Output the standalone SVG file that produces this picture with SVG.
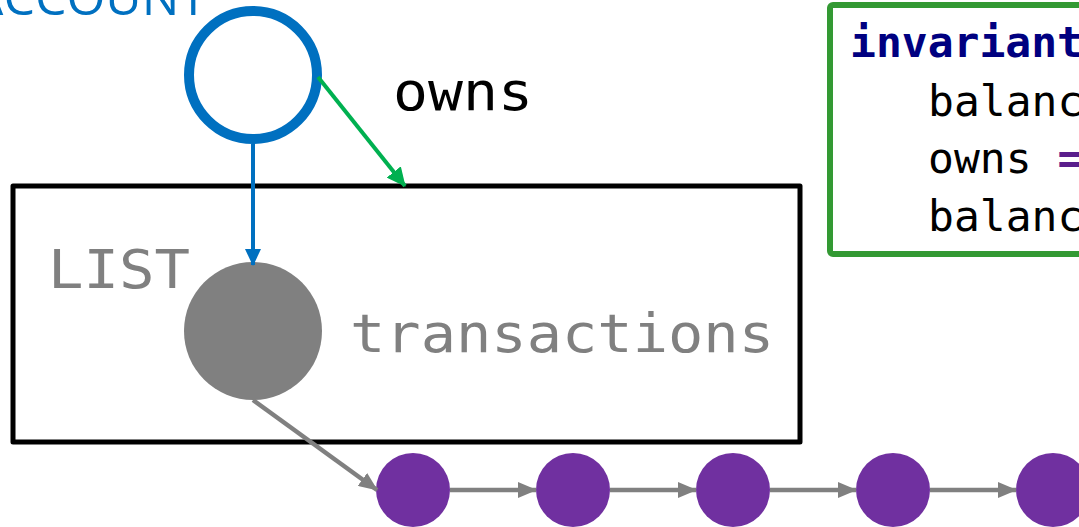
<svg xmlns="http://www.w3.org/2000/svg" width="1079" height="527" viewBox="0 0 1079 527">
  <style>
    .mono { font-family: "DejaVu Sans Mono", "Liberation Mono", monospace; }
    .label { font-size: 53px; }
    .code { font-size: 43px; fill: #000000; }
    .kw { font-weight: bold; fill: #000080; }
    .op { font-weight: bold; fill: #5A1E8C; }
    .item { fill: #7030A0; }
    .link { stroke: #808080; stroke-width: 4.5; fill: none; marker-end: url(#head-gray); }
  </style>
  <defs>
    <marker id="head-blue" markerUnits="userSpaceOnUse" markerWidth="18" markerHeight="16" refX="16" refY="8" orient="auto">
      <path d="M0,0 L17,8 L0,16 Z" fill="#0070C0"/>
    </marker>
    <marker id="head-green" markerUnits="userSpaceOnUse" markerWidth="20" markerHeight="18" refX="18" refY="9" orient="auto">
      <path d="M0,0 L19,9 L0,18 Z" fill="#00B050"/>
    </marker>
    <marker id="head-gray" markerUnits="userSpaceOnUse" markerWidth="20" markerHeight="16" refX="18" refY="8" orient="auto">
      <path d="M0,0 L19,8 L0,16 Z" fill="#808080"/>
    </marker>
  </defs>

  <rect width="1079" height="527" fill="#ffffff"/>

  <!-- account object -->
  <g id="account">
    <text x="207" y="15" text-anchor="end" font-family="'Open Sans', 'Noto Sans', sans-serif" font-size="50" fill="#0070C0">ACCOUNT</text>
    <circle cx="253" cy="75" r="64" fill="#ffffff" stroke="#0070C0" stroke-width="10"/>
  </g>

  <!-- owned list container -->
  <g id="list-box">
    <rect x="13" y="186" width="787" height="256" fill="none" stroke="#000000" stroke-width="5" stroke-linejoin="round"/>
    <text class="mono label" x="48" y="288" fill="#808080" textLength="142" lengthAdjust="spacingAndGlyphs">LIST</text>
    <text class="mono label" x="350" y="352" fill="#808080" textLength="424" lengthAdjust="spacingAndGlyphs">transactions</text>
  </g>

  <g id="list-head">
    <circle cx="253" cy="331" r="69" fill="#808080"/>
  </g>

  <g id="owns-label">
    <text class="mono label" x="393" y="110" fill="#000000" textLength="140" lengthAdjust="spacingAndGlyphs">owns</text>
  </g>

  <!-- invariant clause -->
  <g id="invariant">
    <rect x="830" y="5" width="270" height="249" rx="3" fill="#ffffff" stroke="#339933" stroke-width="6"/>
    <text class="mono code kw" x="850" y="57">invariant</text>
    <text class="mono code" x="928" y="116">balanc</text>
    <text class="mono code" x="928" y="173">owns <tspan class="op">=</tspan></text>
    <text class="mono code" x="928" y="231">balanc</text>
  </g>

  <!-- list cells -->
  <g id="cell-1"><circle class="item" cx="413" cy="490" r="37"/></g>
  <g id="cell-2"><circle class="item" cx="573" cy="490" r="37"/></g>
  <g id="cell-3"><circle class="item" cx="733" cy="490" r="37"/></g>
  <g id="cell-4"><circle class="item" cx="893" cy="490" r="37"/></g>
  <g id="cell-5"><circle class="item" cx="1053" cy="490" r="37"/></g>

  <!-- connectors -->
  <g id="connectors">
    <line x1="253" y1="144" x2="253" y2="265" stroke="#0070C0" stroke-width="4" marker-end="url(#head-blue)"/>
    <line x1="318" y1="77" x2="405" y2="186" stroke="#00B050" stroke-width="4" marker-end="url(#head-green)"/>
    <line class="link" x1="253" y1="400" x2="377" y2="490"/>
    <line class="link" x1="450" y1="490" x2="536" y2="490"/>
    <line class="link" x1="610" y1="490" x2="696" y2="490"/>
    <line class="link" x1="770" y1="490" x2="856" y2="490"/>
    <line class="link" x1="930" y1="490" x2="1016" y2="490"/>
  </g>
</svg>
